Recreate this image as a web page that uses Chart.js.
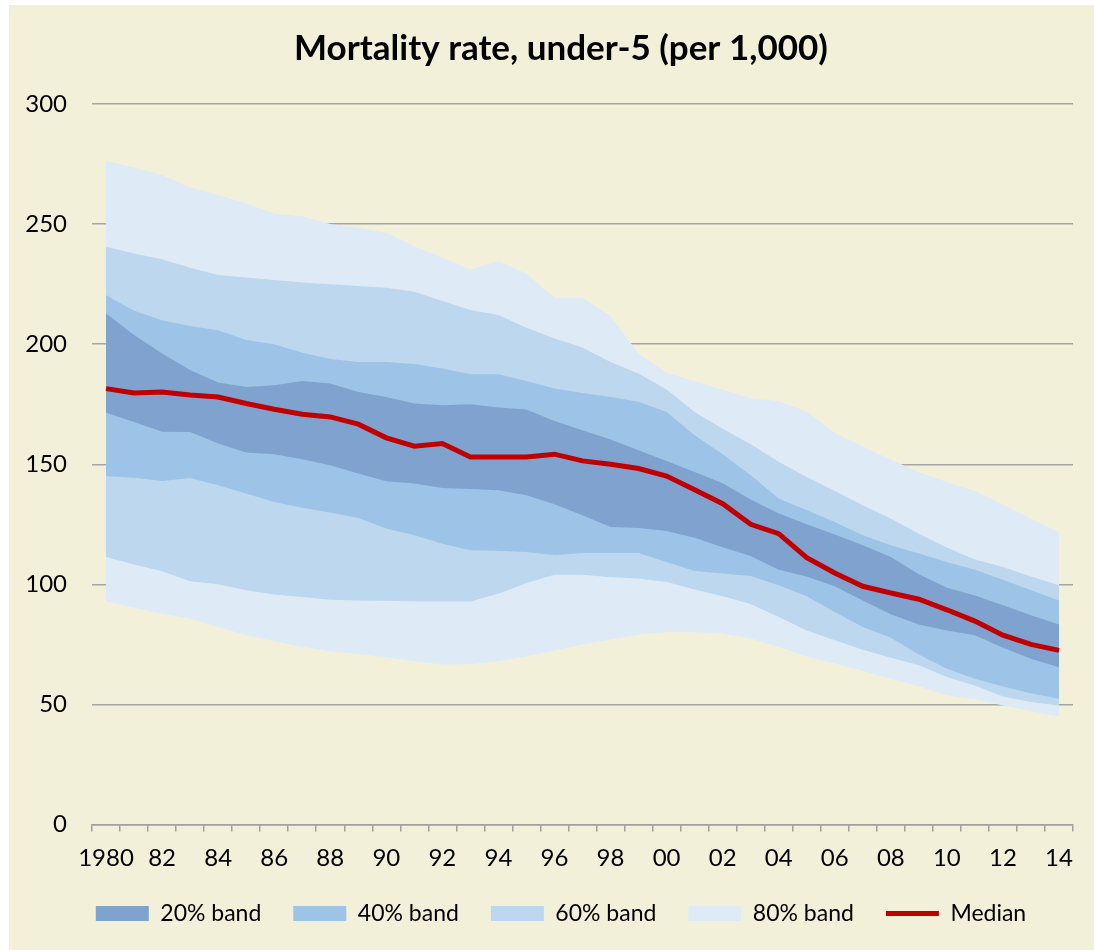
<!DOCTYPE html>
<html>
<head>
<meta charset="utf-8">
<script src="https://cdn.jsdelivr.net/npm/chart.js@4.4.1/dist/chart.umd.min.js"></script>
<style>
  body { margin: 0; background: #ffffff; overflow: hidden; }
  #wrap { position: absolute; left: 9px; top: 5px; width: 1085px; height: 945px; background: #f3f0da; overflow: hidden; }
  canvas { position: absolute; left: 0; top: 0; }
</style>
</head>
<body>
<div id="wrap"><canvas id="chart" width="1104" height="930"></canvas></div>
<script>
// years 1980..2014
const years = [1980,1981,1982,1983,1984,1985,1986,1987,1988,1989,1990,1991,1992,1993,1994,1995,1996,1997,
  1998,1999,2000,2001,2002,2003,2004,2005,2006,2007,2008,2009,2010,2011,2012,2013,2014];
const tickLabels = ['1980','','82','','84','','86','','88','','90','','92','','94','','96','','98','','00','',
  '02','','04','','06','','08','','10','','12','','14'];

const median = [181.5,179.7,180.1,178.8,178,175.3,172.9,170.8,169.7,166.7,161,157.5,158.6,153,153,153,154.2,151.4,
  150,148.2,145.1,139.4,133.6,125,121.1,111.1,104.7,99.2,96.4,93.8,89.4,84.7,78.8,75,72.5];

const band20Hi = [212.8,203.8,196.1,189.2,184,182.2,182.9,184.7,183.6,180.1,178,175.3,174.6,175,173.6,172.8,168,164.2,
  160.3,155.8,151.4,146.8,142.1,135.3,129.5,125,120.7,116.3,111.4,104.2,98.6,95.4,91.3,87.1,83.3];
const band20Lo = [171.4,167.6,163.5,163.4,158.6,154.9,154.2,152.1,149.6,146.1,142.9,142,140.1,139.7,139.2,137.1,133.3,128.8,
  123.9,123.5,122.2,119.4,115.4,111.8,106.1,103.3,99.2,93.3,87.5,83.3,80.8,78.8,73.6,69,65.5];

const band40Hi = [220.4,213.9,210,207.6,205.8,201.7,200,196.4,193.8,192.6,192.6,191.7,189.9,187.5,187.5,184.7,181.5,179.7,
  178,176,171.8,162.1,154.2,145.4,135.7,130.8,126,120.4,116.3,112.8,109.3,106.1,101.9,97.5,93.3];
const band40Lo = [145,144.4,143,144.3,141.3,137.8,134.3,131.9,129.9,127.6,123.2,120.4,116.9,114.2,114,113.5,112.2,113,
  113,113,109.3,105.6,104.5,103.5,99.6,95,88.5,82.2,77.8,70.8,64.9,60.7,57.5,54.7,52.4];

const band60Hi = [240.6,237.8,235.4,231.8,228.8,227.8,226.7,225.7,224.9,224.2,223.5,221.8,218,214.2,212.1,206.8,202.4,198.6,
  192.6,187.8,181.1,171.8,164.8,158.3,151,144.7,138.9,132.9,127.4,121.1,115.3,110.3,107.2,103.3,99.6];
const band60Lo = [111.4,108.3,105.4,101.3,100,97.5,95.8,94.7,93.6,93.3,93.2,92.9,92.9,92.9,96.1,100.6,104,104,
  103,102.4,101,97.8,95,91.8,86.4,80.8,76.7,72.8,69.4,66.3,61.4,57.9,53.3,51,49.6];

const band80Hi = [276.4,273.6,270.4,265.3,262.1,258.6,254.4,253.3,250,248.6,246.4,240.8,236.1,231.1,234.6,229.4,219.3,219.3,
  211.7,196.1,188.2,184.7,181,177.5,176.3,172.1,163,157.5,151.9,146.8,142.6,138.9,133.3,127.4,121.8];
const band80Lo = [92.9,90.3,87.8,85.7,82.2,78.8,76.3,74,72,71,69.6,68,66.6,66.7,68,70,72.5,75,
  77,79,80,80,79.5,77.4,73.9,70,67,63.9,60.7,57.5,53.8,52.1,49.6,47.2,45];

const colors = { b20: '#7fa3ce', b40: '#9dc3e6', b60: '#bdd7ee', b80: '#deebf7', median: '#c00000' };

Chart.defaults.font.family = 'Lato, "Liberation Sans", sans-serif';
Chart.defaults.color = '#000000';

function edge(data, fill, color) {
  return {
    data: data,
    fill: fill,
    backgroundColor: color,
    borderColor: 'rgba(0,0,0,0)',
    borderWidth: 0,
    pointRadius: 0,
    tension: 0
  };
}

const ctx = document.getElementById('chart').getContext('2d');
new Chart(ctx, {
  type: 'line',
  data: {
    labels: years,
    datasets: [
      { label: 'Median', data: median, borderColor: colors.median, borderWidth: 5, pointRadius: 0, fill: false, tension: 0 },
      edge(band20Hi, 2, colors.b20),
      edge(band20Lo, false, colors.b20),
      edge(band40Hi, 4, colors.b40),
      edge(band40Lo, false, colors.b40),
      edge(band60Hi, 6, colors.b60),
      edge(band60Lo, false, colors.b60),
      edge(band80Hi, 8, colors.b80),
      edge(band80Lo, false, colors.b80)
    ]
  },
  options: {
    responsive: false,
    animation: false,
    layout: { padding: 0 },
    plugins: {
      title: {
        display: true,
        text: 'Mortality rate, under-5 (per 1,000)',
        font: { size: 35, weight: 'bold' },
        color: '#000000',
        padding: { top: 23, bottom: 34 }
      },
      legend: {
        position: 'bottom',
        labels: {
          usePointStyle: true,
          pointStyleWidth: 53,
          boxHeight: 15,
          padding: 32,
          font: { size: 23 },
          generateLabels: function() {
            const items = [['20% band', colors.b20], ['40% band', colors.b40], ['60% band', colors.b60], ['80% band', colors.b80]];
            const out = items.map(function(it) {
              return { text: it[0], fillStyle: it[1], strokeStyle: it[1], lineWidth: 0, pointStyle: 'rect', hidden: false };
            });
            out.push({ text: 'Median', fillStyle: colors.median, strokeStyle: colors.median, lineWidth: 5, pointStyle: 'line', hidden: false });
            return out;
          }
        },
        onClick: null
      },
      tooltip: { enabled: false },
      filler: { propagate: false }
    },
    scales: {
      x: {
        offset: true,
        afterFit: function(scale) { scale.height = 45.5; },
        grid: { display: true, offset: true, drawOnChartArea: false, drawTicks: true, tickLength: 7, color: '#a0a0a0', lineWidth: 1.5 },
        border: { display: true, color: '#a0a0a0', width: 1.5 },
        ticks: {
          autoSkip: false,
          maxRotation: 0,
          padding: 15,
          font: { size: 24, lineHeight: 1 },
          callback: function(val, i) { return tickLabels[i]; }
        }
      },
      y: {
        min: 0,
        max: 300,
        afterFit: function(scale) { scale.width = 83; },
        grid: { color: '#a6a6a6', lineWidth: 1.5, drawTicks: false },
        border: { display: false },
        ticks: { stepSize: 50, padding: 25, font: { size: 24 } }
      },
      // empty right-hand spacer so the plot ends where the reference's does
      yRight: {
        position: 'right',
        min: 0,
        max: 300,
        afterFit: function(scale) { scale.width = 40; },
        grid: { drawOnChartArea: false, drawTicks: false },
        border: { display: false },
        ticks: { display: false }
      }
    }
  }
});
</script>
</body>
</html>
